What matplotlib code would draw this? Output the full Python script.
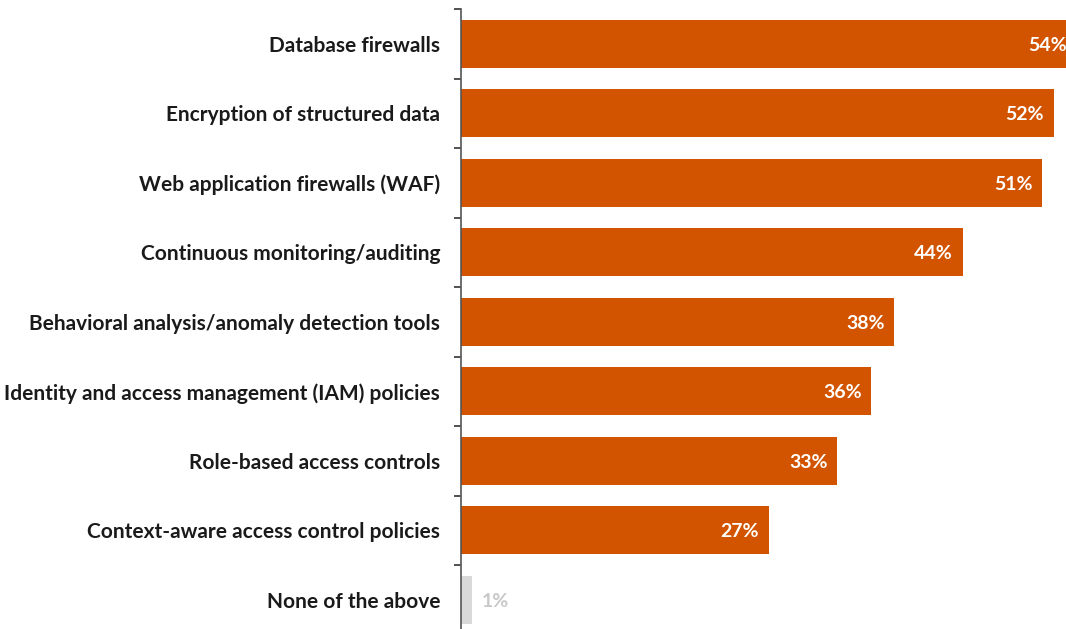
import numpy as np
import matplotlib.pyplot as plt

categories = [
    "Database firewalls",
    "Encryption of structured data",
    "Web application firewalls (WAF)",
    "Continuous monitoring/auditing",
    "Behavioral analysis/anomaly detection tools",
    "Identity and access management (IAM) policies",
    "Role-based access controls",
    "Context-aware access control policies",
    "None of the above",
]
values = [54, 52, 51, 44, 38, 36, 33, 27, 1]

plt.rcParams["font.family"] = ["Lato", "DejaVu Sans"]

W, H = 1066, 629
fig = plt.figure(figsize=(W / 100, H / 100), dpi=100)
# axes placed in pixels: left spine at x=461, top at y=9, bottom beyond the figure
ax_left, ax_top, ax_bot = 461, 9, 634.5
ax = fig.add_axes([ax_left / W, (H - ax_bot) / H, 1 - ax_left / W, (ax_bot - ax_top) / H])

orange = "#D35400"
colors = [orange] * 8 + ["#D9D9D9"]
y = np.arange(len(categories))
ax.barh(y, values, height=0.69, color=colors, zorder=2)

ax.set_ylim(len(categories) - 0.5, -0.5)
ax.set_xlim(0, (W - ax_left) / 11.4)

for i, v in enumerate(values):
    if v > 5:
        ax.annotate(f"{v}%", xy=(v, i), xytext=(-7, -1), textcoords="offset points",
                    ha="right", va="center", color="white", fontsize=14, fontweight="bold",
                    annotation_clip=False)
    else:
        ax.annotate(f"{v}%", xy=(v, i), xytext=(7, -1), textcoords="offset points",
                    ha="left", va="center", color="#C8C8C8", fontsize=14, fontweight="bold")

# labels at the bars, ticks at the band edges
ax.set_yticks(y)
ax.set_yticklabels(categories, fontsize=15, fontweight="bold", color="#1a1a1a")
ax.tick_params(axis="y", which="major", length=0, pad=15)
ax.set_yticks(np.arange(-0.5, len(categories), 1), minor=True)
ax.tick_params(axis="y", which="minor", length=5, width=1.2, color="#333333")

ax.set_xticks([])
for s in ["top", "right", "bottom"]:
    ax.spines[s].set_visible(False)
ax.spines["left"].set_color("#555555")
ax.spines["left"].set_linewidth(1.2)

plt.savefig("out.png", dpi=100)
